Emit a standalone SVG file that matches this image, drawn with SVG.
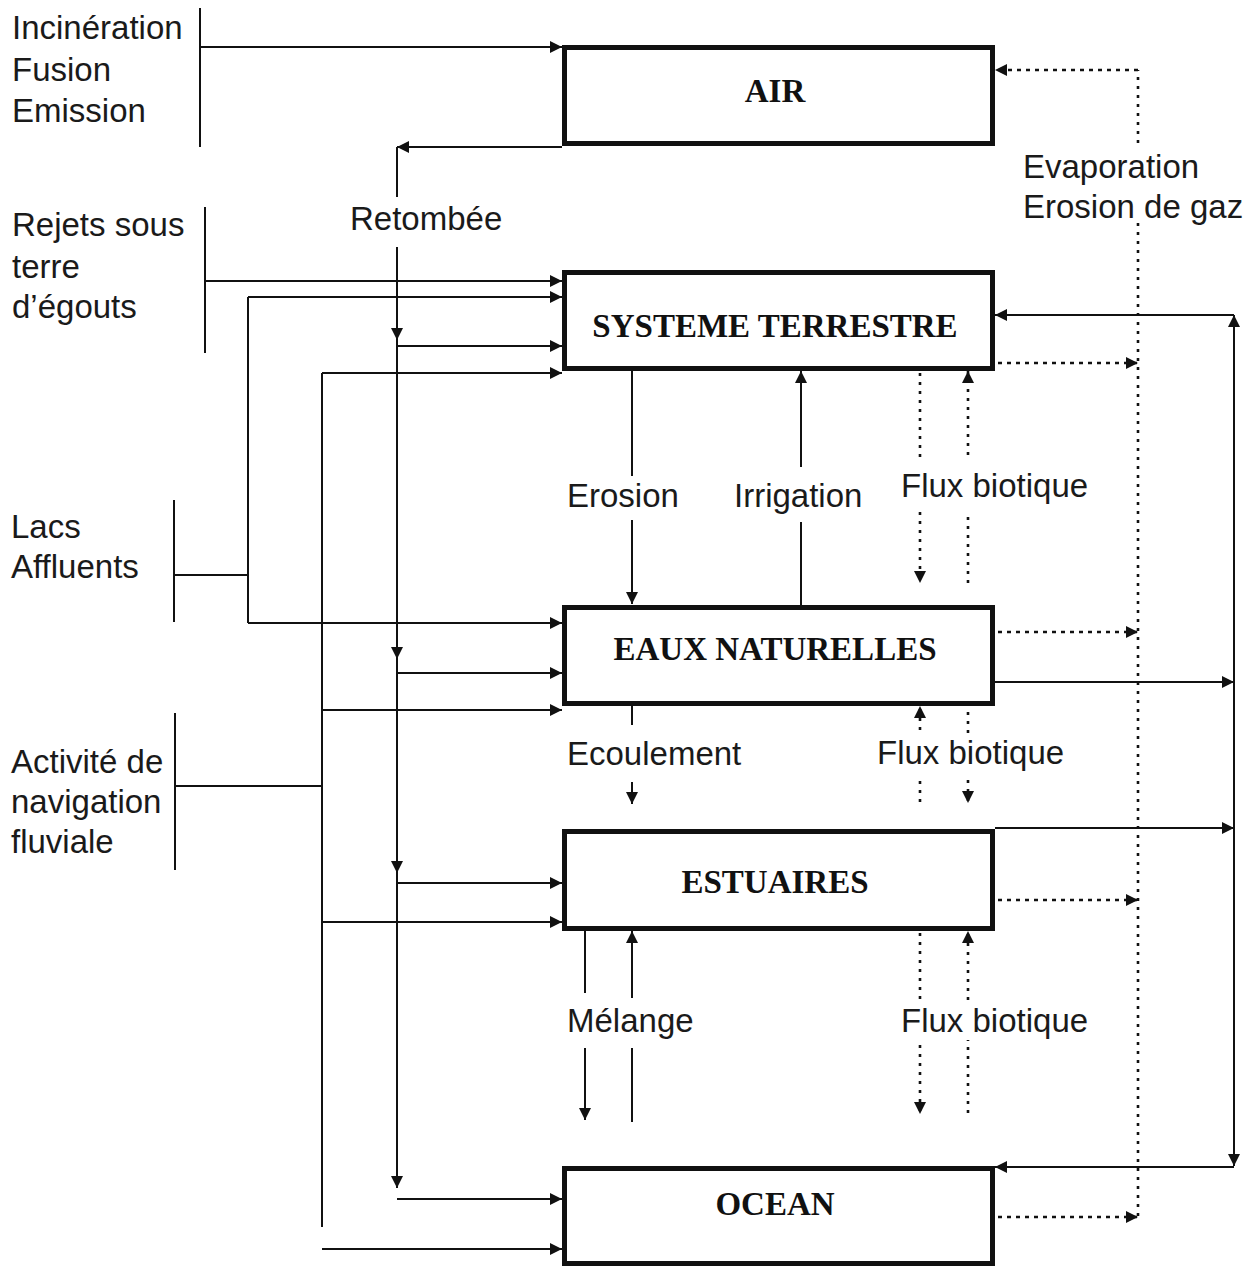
<svg xmlns="http://www.w3.org/2000/svg" width="1259" height="1268" viewBox="0 0 1259 1268">
<style>
.box{fill:#fff;stroke:#111;stroke-width:5}
.bt{font-family:"Liberation Serif","Times New Roman",serif;font-weight:bold;font-size:33px;fill:#111;text-anchor:middle}
.lb{font-family:"Liberation Sans",Arial,sans-serif;font-size:33px;fill:#1a1a1a}
.ln{fill:none;stroke:#111;stroke-width:2}
.dh{fill:none;stroke:#111;stroke-width:2.4;stroke-dasharray:4 5}
.dv{fill:none;stroke:#111;stroke-width:2.6;stroke-dasharray:3 6}
</style>
<defs>
<marker id="ah" viewBox="0 0 12 12" refX="12" refY="6" markerWidth="12" markerHeight="12" markerUnits="userSpaceOnUse" orient="auto">
<path d="M0,0 L12,6 L0,12 z" fill="#111"/>
</marker>
</defs>
<rect width="1259" height="1268" fill="#fff"/>

<g id="air"><rect class="box" x="564.5" y="47.5" width="428" height="96"/><text class="bt" x="775" y="102">AIR</text></g>
<g id="systeme-terrestre"><rect class="box" x="564.5" y="272.5" width="428" height="96"/><text class="bt" x="775" y="337">SYSTEME TERRESTRE</text></g>
<g id="eaux-naturelles"><rect class="box" x="564.5" y="607.5" width="428" height="96"/><text class="bt" x="775" y="660">EAUX NATURELLES</text></g>
<g id="estuaires"><rect class="box" x="564.5" y="831.5" width="428" height="97"/><text class="bt" x="775" y="893">ESTUAIRES</text></g>
<g id="ocean"><rect class="box" x="564.5" y="1168.5" width="428" height="95"/><text class="bt" x="775" y="1215">OCEAN</text></g>

<g id="src-incineration">
<text class="lb" x="12" y="39">Incinération</text>
<text class="lb" x="12" y="81">Fusion</text>
<text class="lb" x="12" y="122">Emission</text>
<path class="ln" d="M200,8 V147"/>
</g>
<g id="src-rejets">
<text class="lb" x="12" y="236">Rejets sous</text>
<text class="lb" x="12" y="278">terre</text>
<text class="lb" x="12" y="318">d’égouts</text>
<path class="ln" d="M205,207 V353"/>
</g>
<g id="src-lacs">
<text class="lb" x="11" y="538">Lacs</text>
<text class="lb" x="11" y="578">Affluents</text>
<path class="ln" d="M174,500 V622"/>
</g>
<g id="src-navigation">
<text class="lb" x="11" y="773">Activité de</text>
<text class="lb" x="11" y="813">navigation</text>
<text class="lb" x="11" y="853">fluviale</text>
<path class="ln" d="M175,713 V870"/>
</g>

<g id="connectors">
<!-- Incineration -> AIR -->
<path class="ln" d="M200,47 H562" marker-end="url(#ah)"/>
<!-- Retombée -->
<path class="ln" d="M562,147 H397" marker-end="url(#ah)"/>
<path class="ln" d="M397,147 V197"/>
<path class="ln" d="M397,247 V340" marker-end="url(#ah)"/>
<path class="ln" d="M397,340 V659" marker-end="url(#ah)"/>
<path class="ln" d="M397,659 V873" marker-end="url(#ah)"/>
<path class="ln" d="M397,873 V1188" marker-end="url(#ah)"/>
<path class="ln" d="M397,346 H562" marker-end="url(#ah)"/>
<path class="ln" d="M397,673 H562" marker-end="url(#ah)"/>
<path class="ln" d="M397,883 H562" marker-end="url(#ah)"/>
<path class="ln" d="M397,1199 H562" marker-end="url(#ah)"/>
<text class="lb" x="350" y="230">Retombée</text>
<!-- Rejets -->
<path class="ln" d="M205,281 H562" marker-end="url(#ah)"/>
<!-- Lacs -->
<path class="ln" d="M174,575 H248"/>
<path class="ln" d="M248,297 V623"/>
<path class="ln" d="M248,297 H562" marker-end="url(#ah)"/>
<path class="ln" d="M248,623 H562" marker-end="url(#ah)"/>
<!-- Navigation -->
<path class="ln" d="M175,786 H322"/>
<path class="ln" d="M322,373 V1227"/>
<path class="ln" d="M322,373 H562" marker-end="url(#ah)"/>
<path class="ln" d="M322,710 H562" marker-end="url(#ah)"/>
<path class="ln" d="M322,922 H562" marker-end="url(#ah)"/>
<path class="ln" d="M322,1249 H562" marker-end="url(#ah)"/>
<!-- Erosion / Irrigation -->
<path class="ln" d="M632,371 V476"/>
<path class="ln" d="M632,520 V604" marker-end="url(#ah)"/>
<text class="lb" x="567" y="507">Erosion</text>
<path class="ln" d="M801,467 V371" marker-end="url(#ah)"/>
<path class="ln" d="M801,605 V522"/>
<text class="lb" x="734" y="507">Irrigation</text>
<!-- Flux biotique 1 -->
<path class="dv" d="M920,373 V457"/>
<path class="dv" d="M920,512 V583" marker-end="url(#ah)"/>
<path class="dv" d="M968,583 V512"/>
<path class="dv" d="M968,455 V371" marker-end="url(#ah)"/>
<text class="lb" x="901" y="497">Flux biotique</text>
<!-- Ecoulement -->
<path class="ln" d="M632,706 V725"/>
<path class="ln" d="M632,782 V804" marker-end="url(#ah)"/>
<text class="lb" x="567" y="765">Ecoulement</text>
<!-- Flux biotique 2 -->
<path class="dv" d="M920,730 V706" marker-end="url(#ah)"/>
<path class="dv" d="M920,781 V802"/>
<path class="dv" d="M968,712 V737"/>
<path class="dv" d="M968,780 V803" marker-end="url(#ah)"/>
<text class="lb" x="877" y="764">Flux biotique</text>
<!-- Mélange -->
<path class="ln" d="M585,931 V993"/>
<path class="ln" d="M585,1048 V1120" marker-end="url(#ah)"/>
<path class="ln" d="M632,1122 V1048"/>
<path class="ln" d="M632,998 V931" marker-end="url(#ah)"/>
<text class="lb" x="567" y="1032">Mélange</text>
<!-- Flux biotique 3 -->
<path class="dv" d="M920,933 V1000"/>
<path class="dv" d="M920,1045 V1114" marker-end="url(#ah)"/>
<path class="dv" d="M968,1113 V1040"/>
<path class="dv" d="M968,1000 V931" marker-end="url(#ah)"/>
<text class="lb" x="901" y="1032">Flux biotique</text>
<!-- Evaporation (dotted, right) -->
<path class="dv" d="M1138,143 V70"/>
<path class="dh" d="M1138,70 H995" marker-end="url(#ah)"/>
<path class="dv" d="M1138,223 V1217"/>
<path class="dh" d="M998,363 H1138" marker-end="url(#ah)"/>
<path class="dh" d="M998,632 H1138" marker-end="url(#ah)"/>
<path class="dh" d="M998,900 H1138" marker-end="url(#ah)"/>
<path class="dh" d="M998,1217 H1138" marker-end="url(#ah)"/>
<text class="lb" x="1023" y="178">Evaporation</text>
<text class="lb" x="1023" y="218">Erosion de gaz</text>
<!-- Solid right loop -->
<path class="ln" d="M1234,700 V315" marker-end="url(#ah)"/>
<path class="ln" d="M1234,700 V1166" marker-end="url(#ah)"/>
<path class="ln" d="M1234,315 H995" marker-end="url(#ah)"/>
<path class="ln" d="M1234,1167 H995" marker-end="url(#ah)"/>
<path class="ln" d="M995,682 H1234" marker-end="url(#ah)"/>
<path class="ln" d="M995,828 H1234" marker-end="url(#ah)"/>
</g>
</svg>
